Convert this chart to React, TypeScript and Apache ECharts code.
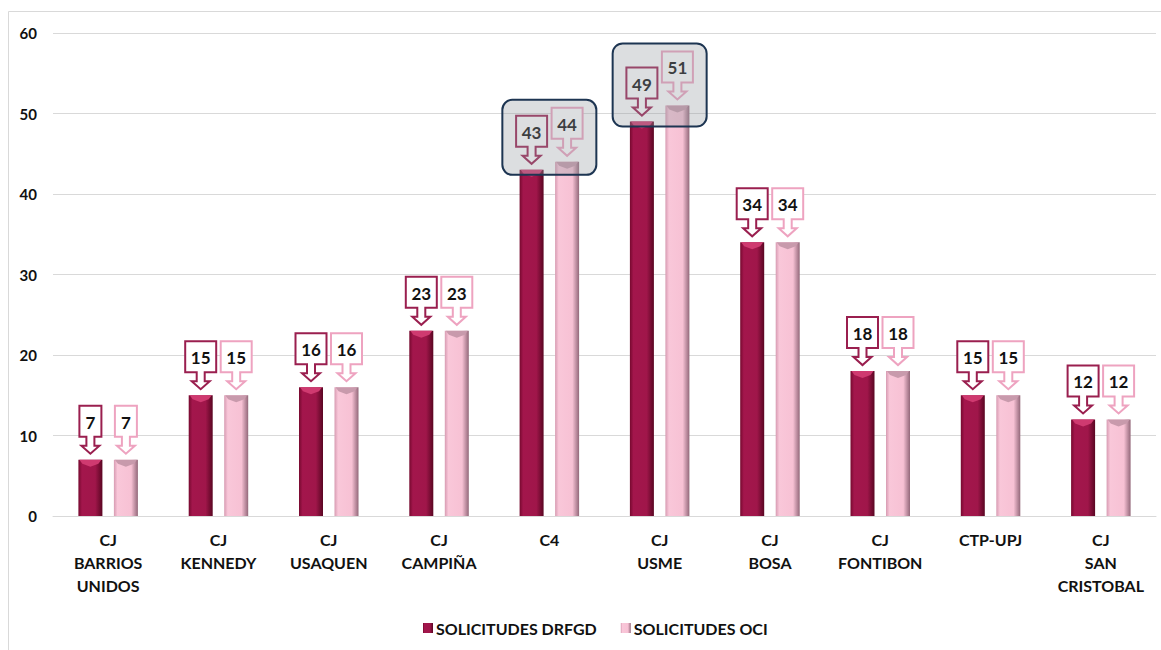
import React, { useEffect, useRef } from "react";
import * as echarts from "echarts";

// Categories (courts / units) and request counts per source
const categories = [
  "CJ\nBARRIOS\nUNIDOS",
  "CJ\nKENNEDY",
  "CJ\nUSAQUEN",
  "CJ\nCAMPIÑA",
  "C4",
  "CJ\nUSME",
  "CJ\nBOSA",
  "CJ\nFONTIBON",
  "CTP-UPJ",
  "CJ\nSAN\nCRISTOBAL",
];
const solicitudesDrfgd = [7, 15, 16, 23, 43, 49, 34, 18, 15, 12];
const solicitudesOci = [7, 15, 16, 23, 44, 51, 34, 18, 15, 12];
const highlightedIdx = [4, 5];
const yTicks = { min: 0, max: 60, interval: 10 };

const seriesNames = ["SOLICITUDES DRFGD", "SOLICITUDES OCI"];

const FONT = "Lato, 'Open Sans', sans-serif";
const BAR_W = 24;
const BAR_GAP = 11.5;
const OFFSET = (BAR_W + BAR_GAP) / 2;

const DARK = "#9c1447";
const LIGHT = "#f6bdd1";
const DARK_BORDER = "#9a1f4f";
const LIGHT_BORDER = "#eea3c0";

const darkGradient = new echarts.graphic.LinearGradient(0, 0, 1, 0, [
  { offset: 0, color: "#76092f" },
  { offset: 0.15, color: "#a3164c" },
  { offset: 0.7, color: "#a0164a" },
  { offset: 1, color: "#5a0622" },
]);
const lightGradient = new echarts.graphic.LinearGradient(0, 0, 1, 0, [
  { offset: 0, color: "#d79bb2" },
  { offset: 0.15, color: "#f9c7d9" },
  { offset: 0.72, color: "#f7c1d4" },
  { offset: 1, color: "#93687a" },
]);

// Callout (box with a down arrow) above each bar, plus a bevel cap on the bar top
function makeCalloutRenderer(side: number, border: string, capColor: string) {
  return (params: any, api: any) => {
    const idx = api.value(0);
    const val = api.value(1);
    const pt = api.coord([idx, val]);
    const cx = pt[0] + side * OFFSET;
    const top = pt[1];
    const text = String(val);
    const w = text.length * 9 + 13;
    const tip = top - 6;
    const headH = 8;
    const shaftH = 9;
    const rb = tip - headH - shaftH;
    const rt = rb - 31;
    const hw = 9;
    const sw = 4;
    const points = [
      [cx - w / 2, rt],
      [cx + w / 2, rt],
      [cx + w / 2, rb],
      [cx + sw, rb],
      [cx + sw, rb + shaftH],
      [cx + hw, rb + shaftH],
      [cx, tip],
      [cx - hw, rb + shaftH],
      [cx - sw, rb + shaftH],
      [cx - sw, rb],
      [cx - w / 2, rb],
    ];
    const l = cx - BAR_W / 2;
    const r = cx + BAR_W / 2;
    return {
      type: "group",
      children: [
        {
          type: "polygon",
          shape: {
            points: [
              [l + 1, top],
              [r - 1, top],
              [r - 4, top + 4],
              [cx, top + 7],
              [l + 4, top + 4],
            ],
          },
          style: { fill: capColor },
        },
        {
          type: "polygon",
          shape: { points },
          style: { fill: "#ffffff", stroke: border, lineWidth: 2 },
        },
        {
          type: "text",
          x: cx,
          y: (rt + rb) / 2 + 1,
          style: {
            text,
            fill: "#111111",
            font: `bold 17px ${FONT}`,
            align: "center",
            verticalAlign: "middle",
          },
        },
      ],
    };
  };
}

function renderHighlight(params: any, api: any) {
  const idx = api.value(0);
  const a = api.value(1);
  const b = api.value(2);
  const hi = api.coord([idx, Math.max(a, b)]);
  const lo = api.coord([idx, Math.min(a, b)]);
  const top = hi[1] - 6 - 17 - 31 - 8;
  const bottom = lo[1] + 5;
  const w = 94;
  return {
    type: "rect",
    shape: { x: hi[0] - w / 2, y: top, width: w, height: bottom - top, r: 10 },
    style: {
      fill: "rgba(150,156,162,0.33)",
      stroke: "#1d3552",
      lineWidth: 2,
    },
  };
}

export default function App() {
  const ref = useRef<HTMLDivElement>(null);

  useEffect(() => {
    document.body.style.margin = "0";
    if (!ref.current) return;
    const chart = echarts.init(ref.current, null, { renderer: "svg" });
    chart.setOption({
      animation: false,
      backgroundColor: "#ffffff",
      textStyle: { fontFamily: FONT },
      graphic: [
        {
          type: "rect",
          z: -10,
          silent: true,
          shape: { x: 8.5, y: 11.5, width: 1170, height: 660 },
          style: { fill: "none", stroke: "#d9d9d9", lineWidth: 1 },
        },
      ],
      legend: {
        left: 418,
        top: 615,
        itemWidth: 10,
        itemHeight: 10,
        itemGap: 24,
        icon: "rect",
        data: seriesNames,
        textStyle: {
          fontFamily: FONT,
          fontWeight: "bold",
          fontSize: 16,
          color: "#111111",
          padding: [0, 0, 0, -2],
        },
      },
      grid: { left: 53, right: 5, top: 33, bottom: 134 },
      xAxis: {
        type: "category",
        data: categories,
        axisLine: { show: true, lineStyle: { color: "#d9d9d9", width: 1 } },
        axisTick: { show: false },
        axisLabel: {
          interval: 0,
          margin: 12,
          fontFamily: FONT,
          fontWeight: "bold",
          fontSize: 16,
          lineHeight: 23,
          color: "#111111",
        },
      },
      yAxis: {
        type: "value",
        min: yTicks.min,
        max: yTicks.max,
        interval: yTicks.interval,
        axisLine: { show: false },
        axisTick: { show: false },
        splitLine: { lineStyle: { color: "#d9d9d9", width: 1 } },
        axisLabel: {
          margin: 16,
          fontFamily: FONT,
          fontWeight: "bold",
          fontSize: 15,
          color: "#111111",
        },
      },
      series: [
        {
          name: seriesNames[0],
          type: "bar",
          data: solicitudesDrfgd,
          barWidth: BAR_W,
          barGap: (BAR_GAP / BAR_W) * 100 + "%",
          itemStyle: { color: darkGradient },
          z: 2,
        },
        {
          name: seriesNames[1],
          type: "bar",
          data: solicitudesOci,
          barWidth: BAR_W,
          itemStyle: { color: lightGradient },
          z: 2,
        },
        {
          type: "custom",
          name: "callouts-drfgd",
          data: solicitudesDrfgd.map((v, i) => [i, v]),
          encode: { x: 0, y: 1 },
          renderItem: makeCalloutRenderer(-1, DARK_BORDER, "#cf3a70"),
          z: 5,
          silent: true,
        },
        {
          type: "custom",
          name: "callouts-oci",
          data: solicitudesOci.map((v, i) => [i, v]),
          encode: { x: 0, y: 1 },
          renderItem: makeCalloutRenderer(1, LIGHT_BORDER, "#c89aac"),
          z: 5,
          silent: true,
        },
        {
          type: "custom",
          name: "highlight",
          data: highlightedIdx.map((i) => [i, solicitudesDrfgd[i], solicitudesOci[i]]),
          encode: { x: 0, y: [1, 2] },
          renderItem: renderHighlight,
          z: 8,
          silent: true,
        },
      ],
      color: [DARK, LIGHT],
    });
    return () => chart.dispose();
  }, []);

  return <div ref={ref} style={{ width: 1161, height: 650 }} />;
}
